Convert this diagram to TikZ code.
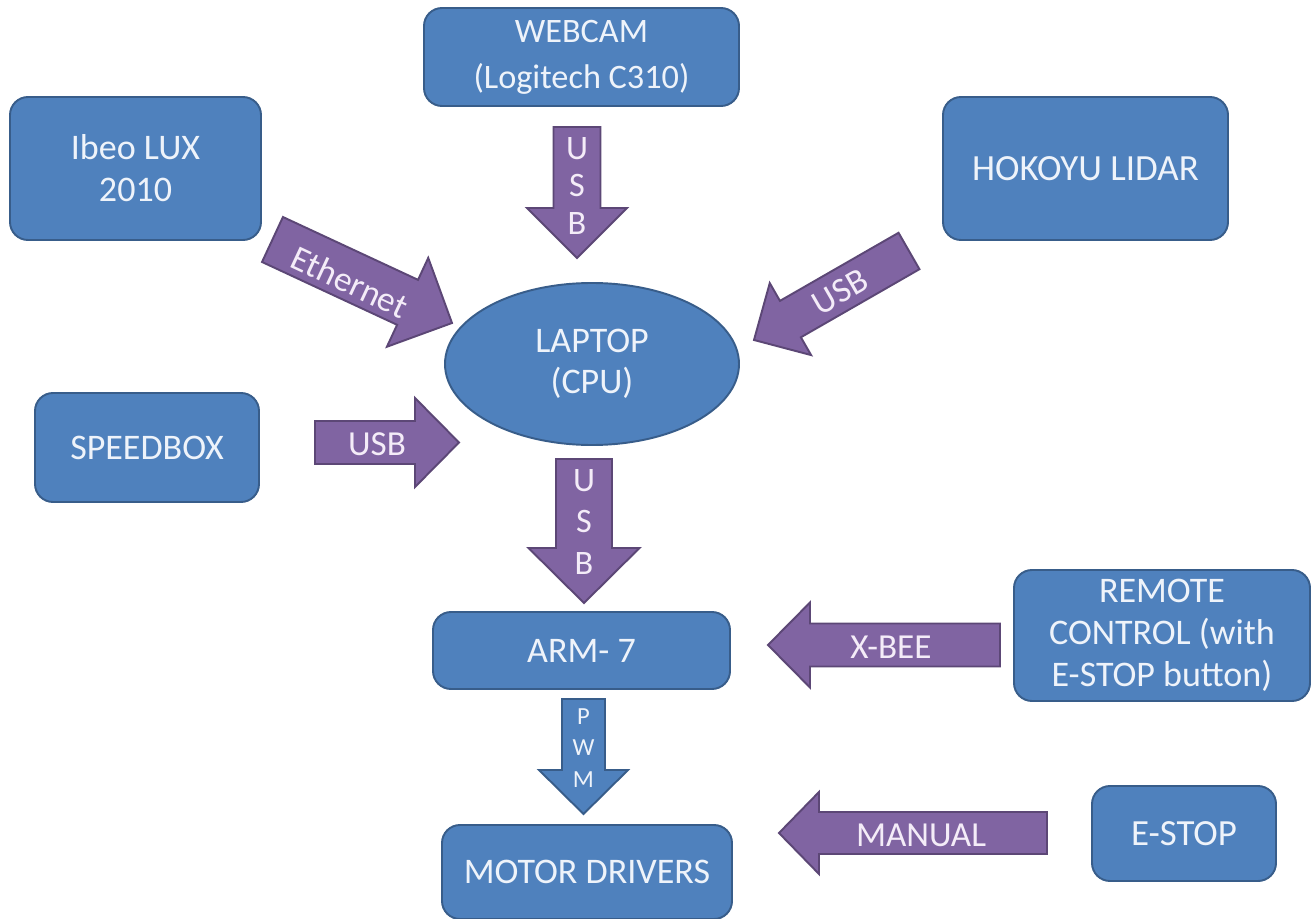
\documentclass[tikz,border=0pt]{standalone}
\usepackage{fontspec}
\setmainfont{Carlito}
\usetikzlibrary{calc,shapes.geometric}
\definecolor{bfill}{HTML}{4F81BD}
\definecolor{bdraw}{HTML}{385D8A}
\definecolor{pfill}{HTML}{8064A2}
\definecolor{pdraw}{HTML}{5C4776}
\definecolor{btext}{HTML}{EEF3FA}
\definecolor{ptext}{HTML}{F4ECF8}
\newcommand\blockarrow[6]{%
  \coordinate (#2-#3-b) at ($(#3)!#6*0.02cm!(#2)$);
  \draw[#1] ($(#2)!#4*0.02cm!90:(#3)$) -- ($(#2-#3-b)!#4*0.02cm!90:(#3)$)
    -- ($(#2-#3-b)!#5*0.02cm!90:(#3)$) -- (#3)
    -- ($(#2-#3-b)!#5*0.02cm!-90:(#3)$) -- ($(#2-#3-b)!#4*0.02cm!-90:(#3)$)
    -- ($(#2)!#4*0.02cm!-90:(#3)$) -- cycle;}
\tikzset{
  box/.style={draw=bdraw, fill=bfill, line width=1.1pt, rounded corners=0.36cm,
    text=btext, font=\fontsize{20.5}{24}\selectfont, align=center, inner sep=0pt},
  oval/.style={ellipse, draw=bdraw, fill=bfill, line width=1.1pt,
    text=btext, font=\fontsize{20.5}{23}\selectfont, align=center, inner sep=0pt},
  parrow/.style={draw=pdraw, fill=pfill, line width=1.1pt, line join=miter},
  barrow/.style={draw=bdraw, fill=bfill, line width=1.1pt, line join=miter},
  plabel/.style={text=ptext, font=\fontsize{20}{24}\selectfont, inner sep=0pt, align=center},
}
\begin{document}
\begin{tikzpicture}[x=0.02cm, y=-0.02cm]
\useasboundingbox[fill=white] (0,0) rectangle (1313,919);

% boxes
\node[box, font=\fontsize{19.5}{26}\selectfont, minimum width=315*0.02cm, minimum height=98*0.02cm] (webcam) at (581.5,57) {WEBCAM\\(Logitech C310)};
\node[box, minimum width=251*0.02cm, minimum height=143*0.02cm] (ibeo) at (135.5,168.5) {Ibeo LUX\\2010};
\node[box, font=\fontsize{21}{24}\selectfont, minimum width=285*0.02cm, minimum height=143*0.02cm] (lidar) at (1085.5,168.5) {HOKOYU LIDAR};
\node[oval, minimum width=294*0.02cm, minimum height=162*0.02cm] (laptop) at (592,364) {LAPTOP\\(CPU)};
\node[box, minimum width=224*0.02cm, minimum height=109*0.02cm] (speed) at (147,447.5) {SPEEDBOX};
\node[box, minimum width=297*0.02cm, minimum height=77*0.02cm] (arm) at (581.5,650.5) {ARM- 7};
\node[box, minimum width=296*0.02cm, minimum height=131*0.02cm] (remote) at (1162,635.5) {REMOTE\\CONTROL (with\\E-STOP button)};
\node[box, minimum width=290*0.02cm, minimum height=94*0.02cm] (motor) at (587,872) {MOTOR DRIVERS};
\node[box, font=\fontsize{21}{24}\selectfont, minimum width=184*0.02cm, minimum height=95*0.02cm] (estop) at (1184,833.5) {E-STOP};

% block arrow end points
\coordinate (eT) at (272.5,239.5); \coordinate (eH) at (452,323);
\coordinate (lT) at (909,251);     \coordinate (lH) at (754,340);
\coordinate (wT) at (577,127);     \coordinate (wH) at (577,258);
\coordinate (sT) at (315,442.5);   \coordinate (sH) at (459,442.5);
\coordinate (dT) at (584,459);     \coordinate (dH) at (584,603);
\coordinate (pT) at (583.5,699);   \coordinate (pH) at (583.5,814);
\coordinate (xT) at (1000,645);    \coordinate (xH) at (768,645);
\coordinate (mT) at (1047,833);    \coordinate (mH) at (779,833);

\blockarrow{parrow}{eT}{eH}{24.8}{49}{49}
\blockarrow{parrow}{lT}{lH}{21}{41.5}{42}
\blockarrow{parrow}{wT}{wH}{23.5}{50}{50}
\blockarrow{parrow}{sT}{sH}{21.5}{44.5}{44}
\blockarrow{parrow}{dT}{dH}{28}{55.5}{55}
\blockarrow{barrow}{pT}{pH}{21.5}{44.5}{44}
\blockarrow{parrow}{xT}{xH}{21.5}{42.5}{42}
\blockarrow{parrow}{mT}{mH}{21}{41}{40}

% arrow labels
\node[plabel, rotate=-25] (ethl) at (350,282) {Ethernet};
\node[plabel, rotate=30] (lidl) at (840,292) {USB};
\node[plabel, font=\fontsize{19.5}{21.3}\selectfont] (webl) at (577,186) {U\\S\\B};
\node[plabel] (spdl) at (377,444) {USB};
\node[plabel, font=\fontsize{19.5}{23.8}\selectfont] (lapl) at (584,522) {U\\S\\B};
\node[plabel, text=btext, font=\fontsize{14}{18}\selectfont] (pwml) at (583.5,748) {P\\W\\M};
\node[plabel] (xbel) at (891,647) {X-BEE};
\node[plabel] (manl) at (921,835) {MANUAL};
\end{tikzpicture}
\end{document}
